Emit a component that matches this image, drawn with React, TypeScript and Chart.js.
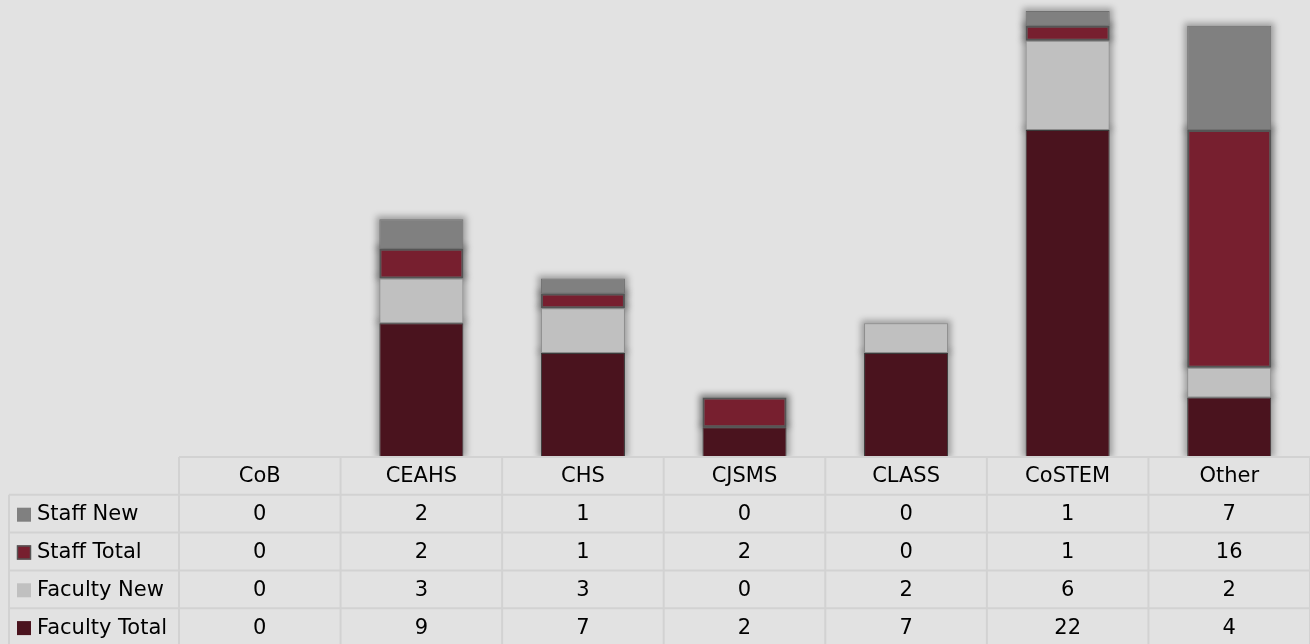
import React, { useEffect, useRef } from "react";
import { Chart, registerables } from "chart.js";

Chart.register(...registerables);

const categories = ["CoB", "CEAHS", "CHS", "CJSMS", "CLASS", "CoSTEM", "Other"];
const facultyTotal = [0, 9, 7, 2, 7, 22, 4];
const facultyNew = [0, 3, 3, 0, 2, 6, 2];
const staffTotal = [0, 2, 1, 2, 0, 1, 16];
const staffNew = [0, 2, 1, 0, 0, 1, 7];
const yMax = 30;

const BG = "#e2e2e2";
const GRID = "#d2d2d2";
const FONT = "'DejaVu Sans', sans-serif";

const seriesDefs = [
  { label: "Faculty Total", data: facultyTotal, color: "#4a131e", border: "#3a3a3a", bw: 1, shadow: 0.3 },
  { label: "Faculty New", data: facultyNew, color: "#c0c0c0", border: "#8c8c8c", bw: 1, shadow: 0.3 },
  { label: "Staff Total", data: staffTotal, color: "#771f2f", border: "#555555", bw: 2, shadow: 0.45 },
  { label: "Staff New", data: staffNew, color: "#808080", border: "#707070", bw: 1, shadow: 0.3 },
];

const shadowPlugin = {
  id: "barShadow",
  beforeDatasetsDraw(chart: any) {
    const ctx = chart.ctx;
    ctx.save();
    ctx.filter = "blur(3px)";
    chart.data.datasets.forEach((ds: any, di: number) => {
      const meta = chart.getDatasetMeta(di);
      const alpha = seriesDefs[di].shadow;
      meta.data.forEach((el: any, i: number) => {
        if (!ds.data[i]) return;
        const p = el.getProps(["x", "y", "base", "width"], true);
        const l = p.x - p.width / 2;
        const t = Math.min(p.y, p.base);
        const h = Math.abs(p.base - p.y);
        ctx.fillStyle = `rgba(0,0,0,${alpha})`;
        ctx.fillRect(l - 3, t - 3, p.width + 6, h + 3);
      });
    });
    ctx.restore();
  },
};

const bgPlugin = {
  id: "bgFill",
  beforeDraw(chart: any) {
    const ctx = chart.ctx;
    ctx.save();
    ctx.fillStyle = BG;
    ctx.fillRect(0, 0, chart.width, chart.height);
    ctx.restore();
  },
};

const tablePlugin = {
  id: "dataTable",
  afterDraw(chart: any) {
    const ctx = chart.ctx;
    const area = chart.chartArea;
    const xs = chart.scales.x;
    const left = area.left;
    const right = area.right;
    const colW = (right - left) / categories.length;
    const top = area.bottom;
    const rowH = 37.8;
    const tableLeft = 9;
    const rows = [...seriesDefs].reverse();
    ctx.save();
    ctx.fillStyle = BG;
    ctx.fillRect(0, top + 1, chart.width, chart.height - top);
    ctx.strokeStyle = GRID;
    ctx.lineWidth = 2;
    ctx.beginPath();
    ctx.moveTo(left, top);
    ctx.lineTo(right, top);
    for (let r = 1; r <= rows.length + 1; r++) {
      const y = top + r * rowH;
      ctx.moveTo(tableLeft, y);
      ctx.lineTo(right, y);
    }
    const bottom = top + (rows.length + 1) * rowH;
    ctx.moveTo(tableLeft, top + rowH);
    ctx.lineTo(tableLeft, bottom);
    for (let c = 0; c <= categories.length; c++) {
      const x = left + c * colW;
      ctx.moveTo(x, top);
      ctx.lineTo(x, bottom);
    }
    ctx.stroke();

    ctx.fillStyle = "#000";
    ctx.font = `21px ${FONT}`;
    ctx.textBaseline = "middle";
    ctx.textAlign = "center";
    categories.forEach((c, i) => {
      ctx.fillText(c, xs.getPixelForValue(i), top + rowH / 2 + 1);
    });
    rows.forEach((s, r) => {
      const yc = top + (r + 1) * rowH + rowH / 2 + 1;
      ctx.fillStyle = s.color;
      ctx.fillRect(17, yc - 7, 14, 14);
      if (s.label === "Staff Total") {
        ctx.strokeStyle = "#555";
        ctx.lineWidth = 1.5;
        ctx.strokeRect(17.5, yc - 6.5, 13, 13);
      }
      ctx.fillStyle = "#000";
      ctx.textAlign = "left";
      ctx.fillText(s.label, 37, yc);
      ctx.textAlign = "center";
      s.data.forEach((v, i) => {
        ctx.fillText(String(v), xs.getPixelForValue(i), yc);
      });
    });
    ctx.restore();
  },
};

export default function App() {
  const ref = useRef<HTMLCanvasElement | null>(null);
  useEffect(() => {
    if (!ref.current) return;
    const chart = new Chart(ref.current, {
      type: "bar",
      data: {
        labels: categories,
        datasets: seriesDefs.map((s) => ({
          label: s.label,
          data: s.data,
          backgroundColor: s.color,
          borderColor: s.border,
          borderWidth: s.bw,
          borderSkipped: false,
          barPercentage: 0.52,
          categoryPercentage: 1,
          clip: false as any,
        })),
      },
      options: {
        animation: false,
        responsive: false,
        devicePixelRatio: 1,
        layout: { padding: { left: 179, right: 0, top: 11, bottom: 187 } },
        plugins: { legend: { display: false }, tooltip: { enabled: false } },
        scales: {
          x: { stacked: true, display: false },
          y: { stacked: true, display: false, min: 0, max: yMax },
        },
      },
      plugins: [bgPlugin, shadowPlugin, tablePlugin],
    });
    return () => chart.destroy();
  }, []);
  return (
    <div style={{ position: "absolute", left: 0, top: 0, width: 1310, height: 644, background: BG }}>
      <canvas ref={ref} width={1310} height={644} style={{ display: "block" }} />
    </div>
  );
}
